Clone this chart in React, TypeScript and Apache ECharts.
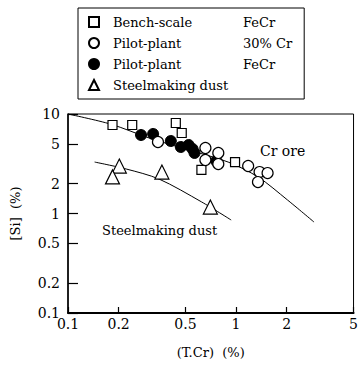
import React, { useEffect, useRef } from "react";
import * as echarts from "echarts";

const xTicks = [0.1, 0.2, 0.5, 1, 2, 5];
const yTicks = [0.1, 0.2, 0.5, 1, 2, 5, 10];

const benchX = [0.184, 0.241, 0.438, 0.475, 0.622, 0.986];
const benchY = [7.75, 7.75, 8.12, 6.44, 2.74, 3.29];

const pilotCrX = [0.343, 0.657, 0.657, 0.784, 0.784, 1.18, 1.38, 1.54, 1.35];
const pilotCrY = [5.23, 4.55, 3.45, 4.06, 3.14, 3.0, 2.61, 2.55, 2.07];

const pilotFeX = [0.272, 0.321, 0.409, 0.469, 0.522, 0.551, 0.566, 0.762];
const pilotFeY = [6.15, 6.3, 5.35, 4.66, 4.88, 4.45, 4.06, 3.37];

const dustX = [0.202, 0.184, 0.362, 0.703];
const dustY = [3.0, 2.33, 2.61, 1.16];

const crLineX = [0.1, 0.18, 0.304, 0.522, 0.897, 1.35, 2.02, 2.91];
const crLineY = [10, 7.9, 5.74, 4.35, 3.29, 2.33, 1.37, 0.82];

const dustLineX = [0.144, 0.222, 0.348, 0.622, 0.935];
const dustLineY = [3.29, 2.8, 2.22, 1.31, 0.86];

const legendCols: Record<string, [string, string]> = {
  "Bench-scale": ["Bench-scale", "FeCr"],
  "Pilot-plant 30% Cr": ["Pilot-plant", "30% Cr"],
  "Pilot-plant FeCr": ["Pilot-plant", "FeCr"],
  "Steelmaking dust": ["Steelmaking dust", ""],
};

const FONT = "'DejaVu Serif', 'Liberation Serif', serif";
const L = (v: number) => Math.log10(v);
const pts = (xs: number[], ys: number[]) => xs.map((x, i) => [L(x), L(ys[i])]);
const fmt = (v: number) => String(Number(Math.pow(10, v).toPrecision(3)));

export default function App() {
  const ref = useRef<HTMLDivElement>(null);
  useEffect(() => {
    if (!ref.current) return;
    const chart = echarts.init(ref.current, undefined, { renderer: "svg" });
    const open = { color: "#fff", borderColor: "#000", borderWidth: 1.2, opacity: 1 };
    chart.setOption({
      animation: false,
      backgroundColor: "#fff",
      grid: {
        left: 68,
        right: 4,
        top: 114,
        bottom: 53,
        show: true,
        borderColor: "#000",
        borderWidth: 1,
      },
      legend: {
        data: Object.keys(legendCols),
        orient: "vertical",
        left: 78,
        top: 8,
        padding: [6, 12, 6, 10],
        itemGap: 5,
        itemWidth: 10,
        itemHeight: 10,
        borderColor: "#000",
        borderWidth: 1,
        selectedMode: false,
        formatter: (name: string) => {
          const c = legendCols[name];
          return c[1] ? `{a|${c[0]}}{b|${c[1]}}` : `{a|${c[0]}}`;
        },
        textStyle: {
          fontFamily: FONT,
          fontSize: 13,
          color: "#000",
          lineHeight: 16,
          rich: {
            a: { fontFamily: FONT, fontSize: 13, color: "#000", width: 130, padding: [0, 0, 0, 9] },
            b: { fontFamily: FONT, fontSize: 13, color: "#000" },
          },
        },
      },
      xAxis: {
        type: "value",
        min: L(0.1),
        max: L(5),
        name: "(T.Cr)  (%)",
        nameLocation: "middle",
        nameGap: 33,
        nameTextStyle: { fontFamily: FONT, fontSize: 13, color: "#000" },
        axisLine: { onZero: false, lineStyle: { color: "#000", width: 2 } },
        axisTick: { inside: true, length: 6, customValues: xTicks.map(L), lineStyle: { color: "#000", width: 1.2 } },
        axisLabel: {
          customValues: xTicks.map(L),
          formatter: fmt,
          fontFamily: FONT,
          fontSize: 14,
          color: "#000",
          margin: 4,
        },
        splitLine: { show: false },
      },
      yAxis: {
        type: "value",
        min: L(0.1),
        max: L(10),
        name: "[Si]  (%)",
        nameLocation: "middle",
        nameGap: 46,
        nameRotate: 90,
        nameTextStyle: { fontFamily: FONT, fontSize: 13, color: "#000" },
        axisLine: { onZero: false, lineStyle: { color: "#000", width: 1.5 } },
        axisTick: { inside: true, length: 10, customValues: yTicks.map(L), lineStyle: { color: "#000", width: 1.2 } },
        axisLabel: {
          customValues: yTicks.map(L),
          formatter: fmt,
          fontFamily: FONT,
          fontSize: 14,
          color: "#000",
          margin: 8,
        },
        splitLine: { show: false },
      },
      graphic: [
        { type: "text", left: 260, top: 144, style: { text: "Cr ore", font: `14px 'DejaVu Serif', serif`, fill: "#000" } },
        { type: "text", left: 102, top: 224, style: { text: "Steelmaking dust", font: `13px 'DejaVu Serif', serif`, fill: "#000" } },
      ],
      series: [
        {
          name: "Cr ore line",
          type: "line",
          data: pts(crLineX, crLineY),
          smooth: 0.3,
          showSymbol: false,
          lineStyle: { color: "#000", width: 1 },
          z: 1,
          silent: true,
        },
        {
          name: "Dust line",
          type: "line",
          data: pts(dustLineX, dustLineY),
          smooth: 0.3,
          showSymbol: false,
          lineStyle: { color: "#000", width: 1 },
          z: 1,
          silent: true,
        },
        {
          name: "Bench-scale",
          type: "scatter",
          symbol: "rect",
          symbolSize: 9,
          data: pts(benchX, benchY),
          itemStyle: open,
          z: 3,
        },
        {
          name: "Pilot-plant FeCr",
          type: "scatter",
          symbol: "circle",
          symbolSize: 11,
          data: pts(pilotFeX, pilotFeY),
          itemStyle: { color: "#000", borderColor: "#000", borderWidth: 1, opacity: 1 },
          z: 3,
        },
        {
          name: "Pilot-plant 30% Cr",
          type: "scatter",
          symbol: "circle",
          symbolSize: 11,
          data: pts(pilotCrX, pilotCrY),
          itemStyle: open,
          z: 4,
        },
        {
          name: "Steelmaking dust",
          type: "scatter",
          symbol: "triangle",
          symbolSize: 14,
          data: pts(dustX, dustY),
          itemStyle: open,
          z: 3,
        },
      ],
    });
    return () => chart.dispose();
  }, []);
  return (
    <div
      ref={ref}
      style={{ position: "fixed", left: 0, top: 0, width: 361, height: 366 }}
    />
  );
}
